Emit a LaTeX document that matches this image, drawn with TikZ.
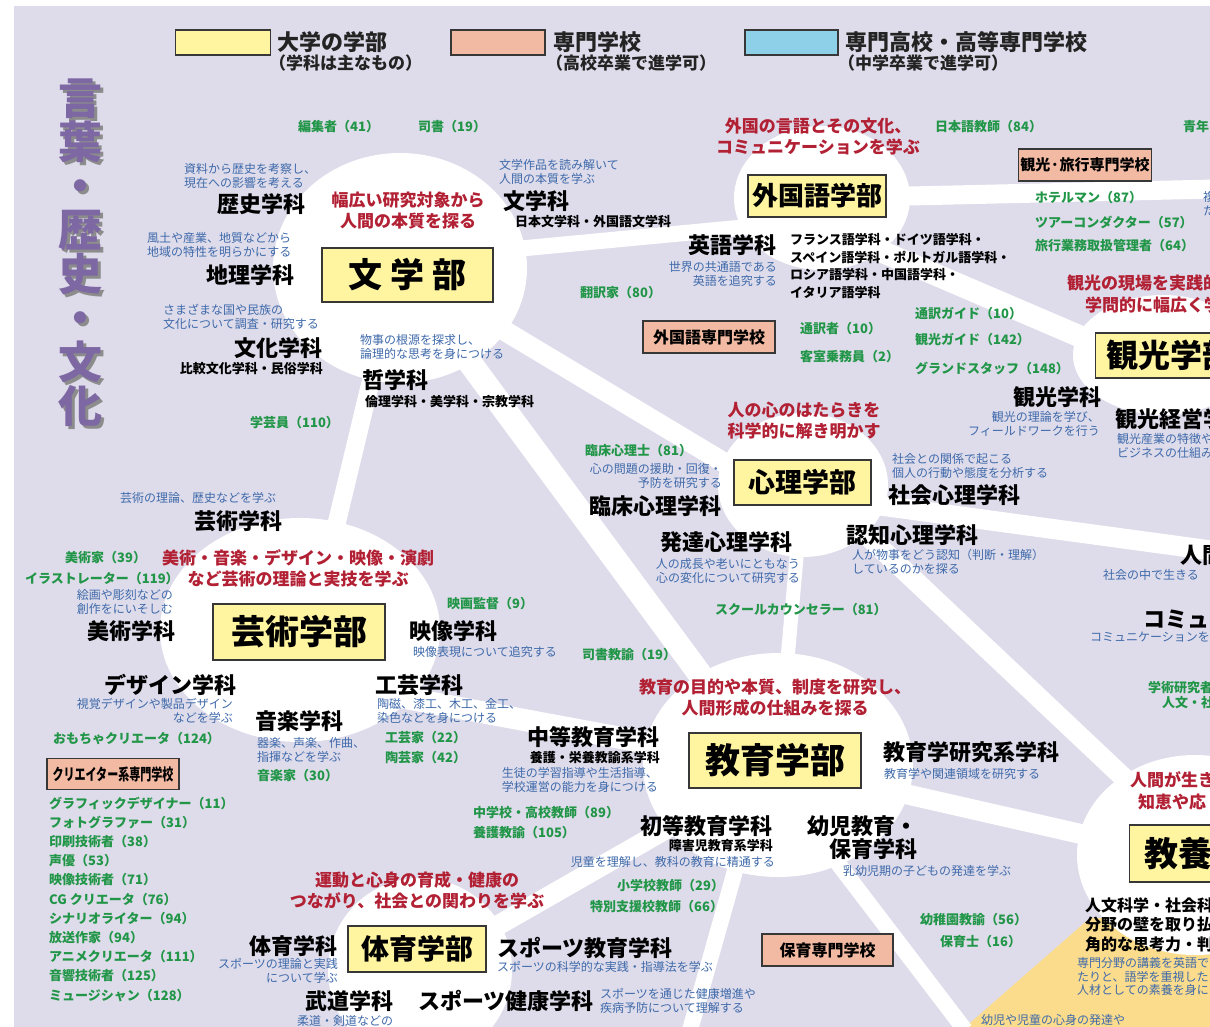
\documentclass[tikz,border=0pt]{standalone}
\usepackage{fontspec}
\setmainfont{Noto Sans CJK JP}
\newcommand{\fsz}[2]{\fontsize{#1}{#2}\selectfont}
\definecolor{lav}{RGB}{222,220,234}
\definecolor{yeltwo}{RGB}{251,220,140}
\definecolor{facy}{RGB}{255,245,160}
\definecolor{schsal}{RGB}{242,186,162}
\definecolor{legblue}{RGB}{142,208,232}
\definecolor{boxline}{RGB}{55,55,55}
\definecolor{descblue}{RGB}{62,105,170}
\definecolor{jobgreen}{RGB}{34,150,72}
\definecolor{tagred}{RGB}{178,32,52}
\definecolor{ttlpurple}{RGB}{125,104,163}
\definecolor{legtext}{RGB}{35,35,35}
\tikzset{
  road/.style={white, line width=#1},
  fac/.style={draw=boxline, fill=facy, line width=1.2pt, inner sep=0pt, font=\bfseries},
  sch/.style={draw=boxline, fill=schsal, line width=1.2pt, inner sep=0pt, font=\bfseries\fsz{16}{18}},
  leg/.style={inner sep=0pt, font=\bfseries\fsz{22}{24}, text=legtext},
  legs/.style={inner sep=0pt, font=\bfseries\fsz{17}{19}, text=legtext},
  dept/.style={inner sep=0pt, font=\bfseries\fsz{22}{23}, text=black},
  sub/.style={inner sep=0pt, font=\bfseries\fsz{13}{17.5}, text=black},
  desc/.style={inner sep=0pt, font=\fsz{12}{14}, text=descblue},
  job/.style={inner sep=0pt, font=\bfseries\fsz{13}{19.2}, text=jobgreen},
  tag/.style={inner sep=0pt, font=\bfseries\fsz{17}{21}, text=tagred},
  ttlstyle/.style={inner sep=0pt, align=center, font=\bfseries\fsz{44}{44}},
}
\begin{document}
\begin{tikzpicture}[x=1pt,y=-1pt]
\useasboundingbox (0,0) rectangle (1210,1026);
\clip (0,0) rectangle (1210,1026);
\fill[white] (0,0) rectangle (1210,1026);
\fill[lav] (14,6) rectangle (1215,1030);
\fill[yeltwo] (962,1030) -- (1090,918) -- (1215,918) -- (1215,1030) -- cycle;

% blob centres
\coordinate (cBun) at (400,268);
\coordinate (cGai) at (822,198);
\coordinate (cKan) at (1163,355);
\coordinate (cShin) at (803,485);
\coordinate (cGei) at (300,630);
\coordinate (cKyo) at (778,765);
\coordinate (cTai) at (420,970);
\coordinate (cKyy) at (1195,855);
% road ends
\coordinate (rA1) at (400,260); \coordinate (rA2) at (822,220);
\coordinate (rB2) at (1215,189);
\coordinate (rC1) at (822,226); \coordinate (rC2) at (1163,372);
\coordinate (rD2) at (803,510);
\coordinate (rE2) at (778,780);
\coordinate (rF1) at (398,268); \coordinate (rF2) at (311,630);
\coordinate (rG1) at (330,684); \coordinate (rG2) at (778,767);
\coordinate (rI1) at (803,495); \coordinate (rI2) at (1215,551);
\coordinate (rJ1) at (803,475); \coordinate (rJ2) at (1195,845);
\coordinate (rK2) at (1195,860);
\coordinate (rL1) at (765,765); \coordinate (rL2) at (690,1030);
\coordinate (rM1) at (763,765); \coordinate (rM2) at (965,1030);

% roads
\draw[road=16pt] (rA1) -- (rA2);
\draw[road=19pt] (cGai) -- (rB2);
\draw[road=22pt] (rC1) -- (rC2);
\draw[road=20pt] (cBun) -- (rD2);
\draw[road=24pt] (cBun) -- (rE2);
\draw[road=18pt] (rF1) -- (rF2);
\draw[road=22pt] (rG1) -- (rG2);
\draw[road=14pt] (cShin) -- (cKyo);
\draw[road=20pt] (rI1) -- (rI2);
\draw[road=20pt] (rJ1) -- (rJ2);
\draw[road=20pt] (cKyo) -- (rK2);
\draw[road=16pt] (rL1) -- (rL2);
\draw[road=16pt] (rM1) -- (rM2);
\draw[road=20pt] (cKyo) -- (cTai);

% blobs
\fill[white] (cBun) ellipse [x radius=127, y radius=115];
\fill[white] (cGai) ellipse [x radius=88, y radius=72];
\fill[white] (cKan) ellipse [x radius=90, y radius=60];
\fill[white] (cShin) ellipse [x radius=85, y radius=72];
\fill[white] (cGei) ellipse [x radius=140, y radius=112];
\fill[white] (cKyo) ellipse [x radius=135, y radius=112];
\fill[white] (cTai) circle [radius=92];
\fill[white] (cKyy) ellipse [x radius=118, y radius=100];

% title
\node[ttlstyle, text=black!45] (ttlS) at (83,256) {言\\葉\\・\\歴\\史\\・\\文\\化};
\node[ttlstyle, text=ttlpurple] (ttl) at (80,253) {言\\葉\\・\\歴\\史\\・\\文\\化};

% legend
\node[fac, minimum width=95pt, minimum height=25pt] (lgY) at (223,42.5) {};
\node[fac, fill=schsal, minimum width=94pt, minimum height=25pt] (lgS) at (498,42.5) {};
\node[fac, fill=legblue, minimum width=93pt, minimum height=25pt] (lgB) at (791.5,42.5) {};
\node[leg, anchor=west] (lgYt) at (277,42) {大学の学部};
\node[legs, anchor=west] (lgYs) at (269,63) {（学科は主なもの）};
\node[leg, anchor=west] (lgSt) at (553,42) {専門学校};
\node[legs, anchor=west] (lgSs) at (546,63) {（高校卒業で進学可）};
\node[leg, anchor=west] (lgBt) at (845,42) {専門高校・高等専門学校};
\node[legs, anchor=west] (lgBs) at (838,63) {（中学卒業で進学可）};

% faculty boxes
\node[fac, minimum width=171pt, minimum height=54pt, font=\bfseries\fsz{34}{36}] (fBun) at (407.5,275) {文\hspace{8pt}学\hspace{8pt}部};
\node[fac, minimum width=138pt, minimum height=42pt, font=\bfseries\fsz{26}{28}] (fGai) at (817,196) {外国語学部};
\node[fac, anchor=west, minimum width=150pt, minimum height=45pt, font=\bfseries\fsz{32}{34}] (fKan) at (1095,355.5) {観光学部};
\node[fac, minimum width=137pt, minimum height=45pt, font=\bfseries\fsz{27}{29}] (fShin) at (802.5,482.5) {心理学部};
\node[fac, minimum width=172pt, minimum height=56pt, font=\bfseries\fsz{34}{36}] (fGei) at (299,632) {芸術学部};
\node[fac, minimum width=172pt, minimum height=55pt, font=\bfseries\fsz{35}{37}] (fKyo) at (775,760.5) {教育学部};
\node[fac, minimum width=138pt, minimum height=46pt, font=\bfseries\fsz{28}{30}] (fTai) at (417,949) {体育学部};
\node[fac, anchor=west, minimum width=165pt, minimum height=57pt, font=\bfseries\fsz{34}{36}] (fKyy) at (1129,853.5) {教養学部};

% school boxes
\node[sch, minimum width=132pt, minimum height=32pt] (sGai) at (709,337) {外国語専門学校};
\node[sch, minimum width=133pt, minimum height=32pt, font=\bfseries\fsz{15}{17}] (sKan) at (1085,165) {観光·旅行専門学校};
\node[sch, minimum width=132pt, minimum height=31pt] (sCre) at (113,774) {\scalebox{0.69}[1]{クリエイター系専門学校}};
\node[sch, minimum width=131pt, minimum height=32pt] (sHoi) at (827.5,950) {保育専門学校};

% red taglines
\node[tag, align=center] (tgBun) at (408,211) {幅広い研究対象から\\人間の本質を探る};
\node[tag, align=center] (tgGai) at (818,137) {外国の言語とその文化、\\コミュニケーションを学ぶ};
\node[tag, anchor=west] (tgKan1) at (1067,283) {観光の現場を実践的};
\node[tag, anchor=west] (tgKan2) at (1085,305) {学問的に幅広く学};
\node[tag, align=center] (tgShin) at (804,421) {人の心のはたらきを\\科学的に解き明かす};
\node[tag, align=center] (tgGei) at (298,568) {美術・音楽・デザイン・映像・演劇\\など芸術の理論と実技を学ぶ};
\node[tag, align=center] (tgKyo) at (775,698) {教育の目的や本質、制度を研究し、\\人間形成の仕組みを探る};
\node[tag, align=center] (tgTai) at (417,890) {運動と心身の育成・健康の\\つながり、社会との関わりを学ぶ};
\node[tag, anchor=west] (tgKyy1) at (1130,780) {人間が生き};
\node[tag, anchor=west] (tgKyy2) at (1138,802) {知恵や応};

% departments
\node[dept] (dReki) at (261,204) {歴史学科};
\node[dept] (dBun) at (536,201) {文学科};
\node[dept] (dChiri) at (250,275) {地理学科};
\node[dept] (dBunka) at (278,348) {文化学科};
\node[dept] (dTetsu) at (395,380) {哲学科};
\node[dept] (dEigo) at (732,245) {英語学科};
\node[dept] (dKanko) at (1057,397) {観光学科};
\node[dept, anchor=west] (dKankoK) at (1115,419) {観光経営学};
\node[dept] (dRinsho) at (655,506) {臨床心理学科};
\node[dept] (dShakai) at (954,495) {社会心理学科};
\node[dept] (dHattatsu) at (726,542) {発達心理学科};
\node[dept] (dNinchi) at (912,535) {認知心理学科};
\node[dept] (dGeijutsu) at (238,521) {芸術学科};
\node[dept] (dBijutsu) at (131,631) {美術学科};
\node[dept] (dEizo) at (453,631) {映像学科};
\node[dept] (dDesign) at (170,685) {デザイン学科};
\node[dept] (dKogei) at (419,685) {工芸学科};
\node[dept] (dOngaku) at (299,721) {音楽学科};
\node[dept] (dChuto) at (593,737) {中等教育学科};
\node[dept] (dKyoken) at (971,752) {教育学研究系学科};
\node[dept] (dShoto) at (706,826) {初等教育学科};
\node[dept, anchor=east, align=right] (dYoji) at (918,838) {幼児教育・\\保育学科};
\node[dept] (dTaiiku) at (293,946) {体育学科};
\node[dept] (dBudo) at (349,1001) {武道学科};
\node[dept] (dSpoKyo) at (585,948) {スポーツ教育学科};
\node[dept] (dSpoKen) at (506,1001) {スポーツ健康学科};
\node[dept, anchor=west] (dNingen) at (1180,555) {人間};
\node[dept, anchor=west] (dComm) at (1143,619) {コミュ};
\node[inner sep=0pt, font=\bfseries\fsz{16}{19.5}, anchor=west, align=left] (dKyyTxt) at (1085,924.5) {人文科学・社会科\\分野の壁を取り払\\角的な思考力・判};

% sub-departments
\node[sub, anchor=west] (sbBun) at (515,222) {日本文学科・外国語文学科};
\node[sub, anchor=east] (sbBunka) at (323,369) {比較文化学科・民俗学科};
\node[sub, anchor=west] (sbTetsu) at (365,402) {倫理学科・美学科・宗教学科};
\node[sub, anchor=west, align=left] (sbGai) at (790,266) {フランス語学科・ドイツ語学科・\\スペイン語学科・ポルトガル語学科・\\ロシア語学科・中国語学科・\\イタリア語学科};
\node[sub, anchor=east] (sbChuto) at (660,758) {養護・栄養教諭系学科};
\node[sub, anchor=east] (sbShoto) at (773,846) {障害児教育系学科};

% descriptions
\node[desc, anchor=west, align=left] (dsReki) at (184,176) {資料から歴史を考察し、\\現在への影響を考える};
\node[desc, anchor=west, align=left] (dsBun) at (499,172) {文学作品を読み解いて\\人間の本質を学ぶ};
\node[desc, anchor=west, align=left] (dsChiri) at (147,245) {風土や産業、地質などから\\地域の特性を明らかにする};
\node[desc, anchor=west, align=left] (dsBunka) at (163,317) {さまざまな国や民族の\\文化について調査・研究する};
\node[desc, anchor=west, align=left] (dsTetsu) at (360,347) {物事の根源を探求し、\\論理的な思考を身につける};
\node[desc, anchor=east, align=right] (dsEigo) at (777,274) {世界の共通語である\\英語を追究する};
\node[desc, anchor=east, align=right] (dsKanko) at (1100,424) {観光の理論を学び、\\フィールドワークを行う};
\node[desc, anchor=west, align=left] (dsKankoK) at (1117,446) {観光産業の特徴や\\ビジネスの仕組み};
\node[desc, anchor=west, align=left] (dsFuku) at (1203,204) {複\\た};
\node[desc, anchor=east, align=right] (dsRinsho) at (722,476) {心の問題の援助・回復・\\予防を研究する};
\node[desc, anchor=west, align=left] (dsShakai) at (892,466) {社会との関係で起こる\\個人の行動や態度を分析する};
\node[desc, anchor=east, align=right] (dsHattatsu) at (800,571) {人の成長や老いにともなう\\心の変化について研究する};
\node[desc, anchor=west, align=left] (dsNinchi) at (852,562) {人が物事をどう認知（判断・理解）\\しているのかを探る};
\node[desc, anchor=west] (dsGeijutsu) at (120,498) {芸術の理論、歴史などを学ぶ};
\node[desc, anchor=east, align=right] (dsBijutsu) at (173,602) {絵画や彫刻などの\\創作をにいそしむ};
\node[desc, anchor=east, align=right] (dsDesign) at (233,711) {視覚デザインや製品デザイン\\などを学ぶ};
\node[desc, anchor=west, align=left] (dsOngaku) at (257,750) {器楽、声楽、作曲、\\指揮などを学ぶ};
\node[desc, anchor=west, align=left] (dsKogei) at (377,711) {陶磁、漆工、木工、金工、\\染色などを身につける};
\node[desc, anchor=west] (dsEizo) at (413,652) {映像表現について追究する};
\node[desc, anchor=east, align=right] (dsChuto) at (658,780) {生徒の学習指導や生活指導、\\学校運営の能力を身につける};
\node[desc, anchor=west] (dsKyoken) at (884,774) {教育学や関連領域を研究する};
\node[desc, anchor=west] (dsNingen) at (1103,575) {社会の中で生きる};
\node[desc, anchor=west] (dsComm) at (1090,637) {コミュニケーションを};
\node[desc, anchor=east] (dsShoto) at (775,862) {児童を理解し、教科の教育に精通する};
\node[desc, anchor=west] (dsYoji) at (843,871) {乳幼児期の子どもの発達を学ぶ};
\node[desc, anchor=east, align=right] (dsTaiiku) at (338,971) {スポーツの理論と実践\\について学ぶ};
\node[desc, anchor=west] (dsSpoKyo) at (497,967) {スポーツの科学的な実践・指導法を学ぶ};
\node[desc, anchor=west, align=left] (dsSpoKen) at (600,1001) {スポーツを通じた健康増進や\\疾病予防について理解する};
\node[desc, anchor=west] (dsBudo) at (297,1021) {柔道・剣道などの};
\node[desc, anchor=west, align=left, font=\fsz{12}{13.5}] (dsKyy) at (1077,976.5) {専門分野の講義を英語で\\たりと、語学を重視した\\人材としての素養を身に};
\node[desc, anchor=west] (dsYojiB) at (981,1020) {幼児や児童の心身の発達や};

% jobs
\node[job, anchor=west] (jHen) at (298,127) {編集者（41）};
\node[job, anchor=west] (jShi) at (418,127) {司書（19）};
\node[job, anchor=west] (jNih) at (935,127) {日本語教師（84）};
\node[job, anchor=west] (jSei) at (1183,127) {青年};
\node[job, anchor=west] (jHon) at (580,293) {翻訳家（80）};
\node[job, anchor=west] (jGak) at (250,423) {学芸員（110）};
\node[job, anchor=west] (jHot) at (1035,198) {ホテルマン（87）};
\node[job, anchor=west] (jTou) at (1035,222) {ツアーコンダクター（57）};
\node[job, anchor=west] (jRyo) at (1035,246) {旅行業務取扱管理者（64）};
\node[job, anchor=west] (jTsG) at (915,314) {通訳ガイド（10）};
\node[job, anchor=west] (jKaG) at (915,340) {観光ガイド（142）};
\node[job, anchor=west] (jGra) at (915,368) {グランドスタッフ（148）};
\node[job, anchor=west] (jTsu) at (800,329) {通訳者（10）};
\node[job, anchor=west] (jKya) at (800,357) {客室乗務員（2）};
\node[job, anchor=west] (jRin) at (585,451) {臨床心理士（81）};
\node[job, anchor=west] (jSch) at (715,610) {スクールカウンセラー（81）};
\node[job, anchor=west] (jEig) at (447,604) {映画監督（9）};
\node[job, anchor=west] (jShK) at (582,655) {司書教諭（19）};
\node[job, anchor=west] (jBij) at (65,558) {美術家（39）};
\node[job, anchor=west] (jIll) at (25,579) {イラストレーター（119）};
\node[job, anchor=west] (jOmo) at (53,739) {おもちゃクリエータ（124）};
\node[job, anchor=west] (jKog) at (385,738) {工芸家（22）};
\node[job, anchor=west] (jTog) at (385,758) {陶芸家（42）};
\node[job, anchor=west] (jOng) at (257,776) {音楽家（30）};
\node[job, anchor=west] (jChu) at (473,813) {中学校・高校教師（89）};
\node[job, anchor=west] (jYog) at (473,833) {養護教諭（105）};
\node[job, anchor=west] (jSho) at (617,886) {小学校教師（29）};
\node[job, anchor=west] (jTok) at (590,907) {特別支援校教師（66）};
\node[job, anchor=west] (jYoc) at (920,920) {幼稚園教諭（56）};
\node[job, anchor=west] (jHoi) at (940,942) {保育士（16）};
\node[job, anchor=west] (jGaj) at (1148,688) {学術研究者};
\node[job, anchor=west] (jJin) at (1162,703) {人文・社};
\node[job, anchor=west, align=left] (jCre) at (49,899) {グラフィックデザイナー（11）\\フォトグラファー（31）\\印刷技術者（38）\\声優（53）\\映像技術者（71）\\CG クリエータ（76）\\シナリオライター（94）\\放送作家（94）\\アニメクリエータ（111）\\音響技術者（125）\\ミュージシャン（128）};
\end{tikzpicture}
\end{document}
